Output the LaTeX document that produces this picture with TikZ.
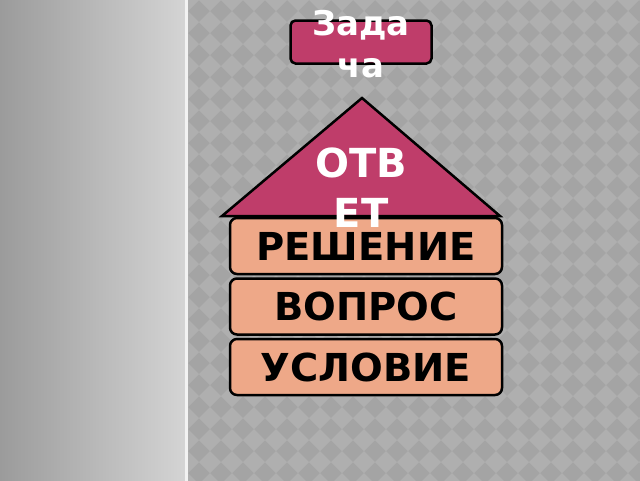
\documentclass[tikz,border=0pt]{standalone}
\usepackage{fontspec}
\setmainfont{DejaVu Sans}
\usetikzlibrary{positioning}
\definecolor{roof}{RGB}{191,61,106}
\definecolor{brick}{RGB}{238,168,136}
\definecolor{panelL}{RGB}{152,152,152}
\definecolor{panelR}{RGB}{212,212,212}
\definecolor{tileD}{RGB}{164,164,164}
\definecolor{tileL}{RGB}{175,175,175}

\begin{document}
\begin{tikzpicture}[x=1pt,y=-1pt,
    slab/.style={draw=black, line width=2.5pt, fill=brick, rounded corners=7pt,
      minimum width=272pt, minimum height=56pt, inner sep=0pt,
      font=\fontsize{38.5}{46}\selectfont\bfseries},
    roofbox/.style={draw=black, line width=2.5pt, fill=roof, rounded corners=5pt,
      minimum width=141pt, minimum height=43pt, inner sep=0pt},
    whitetext/.style={text=white, align=center, inner sep=0pt}]
      \useasboundingbox (0,0) rectangle (640,480);
      \clip (0,0) rectangle (640,480);
      \begin{scope}
        \fill[tileD] (188,-10) rectangle (650,490);
        \clip (188,-10) rectangle (650,490);
        \def\tile{22}
        \foreach \i in {0,...,21} {
          \foreach \j in {0,...,22} {
            \fill[tileL] (188+\tile*\i,\tile*\j) ++(-\tile/2,0) -- ++(\tile/2,-\tile/2)
              -- ++(\tile/2,\tile/2) -- ++(-\tile/2,\tile/2) -- cycle;
          }
        }
      \end{scope}
      \shade[left color=panelL, right color=panelR] (-10,-10) rectangle (185,490);
      \fill[white!90!gray] (185,-10) rectangle (188,490);

      \node[roofbox] (task) at (361,42) {};
      \node[whitetext, font=\fontsize{34}{42}\selectfont\bfseries] (tasktext) at (361,44) {Зада\\ча};

      \node[slab] (cond) at (366,367) {УСЛОВИЕ};
      \node[slab, above=2pt of cond] (quest) {ВОПРОС};
      \node[slab, above=2pt of quest] (solve) {РЕШЕНИЕ};

      \draw[line width=2.5pt, fill=roof, line join=miter] (222,216) -- (362,98) -- (500,216) -- cycle;
      \node[whitetext, font=\fontsize{40}{50}\selectfont\bfseries] (answer) at (361,188) {ОТВ\\ЕТ};
    \end{tikzpicture}
\end{document}
